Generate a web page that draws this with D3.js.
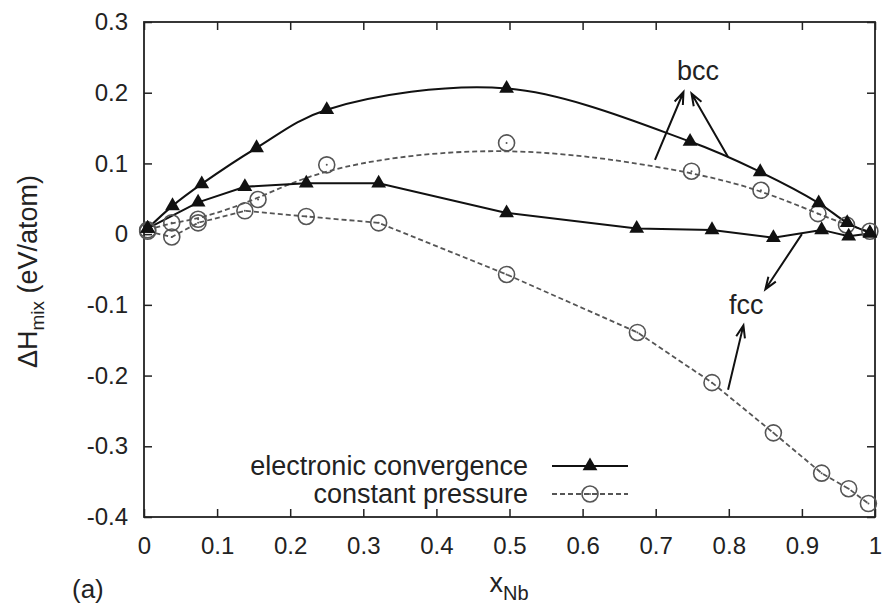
<!DOCTYPE html>
<html>
<head>
<meta charset="utf-8">
<script src="https://cdn.jsdelivr.net/npm/d3@7"></script>
<style>
  body { margin: 0; background: #fff; }
  svg text { font-family: "Liberation Sans", Arial, sans-serif; fill: #222; }
</style>
</head>
<body>
<div id="chart"></div>
<script>
// bcc, electronic convergence (solid, triangles)
var bccElX = [0.005, 0.039, 0.079, 0.154, 0.25, 0.496, 0.747, 0.843, 0.923, 0.962, 0.993];
var bccElY = [0.008, 0.040, 0.071, 0.122, 0.176, 0.206, 0.131, 0.088, 0.044, 0.016, 0.002];
// bcc, constant pressure (dashed, circles)
var bccCpX = [0.005, 0.038, 0.074, 0.156, 0.25, 0.496, 0.749, 0.844, 0.922, 0.961, 0.993];
var bccCpY = [0.006, 0.016, 0.021, 0.049, 0.098, 0.129, 0.089, 0.062, 0.029, 0.013, 0.004];
// fcc, electronic convergence
var fccElX = [0.005, 0.074, 0.138, 0.222, 0.321, 0.496, 0.674, 0.777, 0.861, 0.927, 0.964, 0.993];
var fccElY = [0.008, 0.045, 0.067, 0.072, 0.072, 0.030, 0.008, 0.006, -0.005, 0.006, -0.003, 0.001];
// fcc, constant pressure
var fccCpX = [0.005, 0.038, 0.074, 0.138, 0.222, 0.321, 0.496, 0.675, 0.777, 0.861, 0.927, 0.964, 0.991];
var fccCpY = [0.004, -0.004, 0.016, 0.033, 0.025, 0.016, -0.057, -0.139, -0.21, -0.281, -0.338, -0.36, -0.381];

var xTicks = [0, 0.1, 0.2, 0.3, 0.4, 0.5, 0.6, 0.7, 0.8, 0.9, 1];
var yTicks = [-0.4, -0.3, -0.2, -0.1, 0, 0.1, 0.2, 0.3];
var legendLabels = ["electronic convergence", "constant pressure"];

// annotation arrows, [x0, y0, x1, y1] in data units
var bccLabel = {text: "bcc", x: 0.758, y: 0.218};
var bccArrows = [[0.699, 0.105, 0.738, 0.201], [0.799, 0.109, 0.749, 0.199]];
var fccLabel = {text: "fcc", x: 0.824, y: -0.113};
var fccArrows = [[0.900, 0.000, 0.850, -0.078], [0.799, -0.220, 0.820, -0.129]];

var width = 887, height = 605;
// plot frame (window.top is read-only, so no "top" here)
var mLeft = 144, mRight = 875, mTop = 22, mBottom = 517;

var svg = d3.select("#chart").append("svg")
  .attr("width", width).attr("height", height);

var x = d3.scaleLinear().domain([0, 1]).range([mLeft, mRight]);
var y = d3.scaleLinear().domain([-0.4, 0.3]).range([mBottom, mTop]);

function fmt(d) { return d === 0 ? "0" : d3.format(".1f")(d).replace("\u2212", "-"); }
function fmtX(d) { return (d === 0 || d === 1) ? String(d) : d3.format(".1f")(d); }

// axes, ticks pointing inward on all four sides
var fs = 24;
var gx = svg.append("g").attr("transform", "translate(0," + mBottom + ")")
  .call(d3.axisBottom(x).tickValues(xTicks).tickFormat(fmtX).tickSizeInner(-8).tickSizeOuter(0).tickPadding(20));
var gy = svg.append("g").attr("transform", "translate(" + mLeft + ",0)")
  .call(d3.axisLeft(y).tickValues(yTicks).tickFormat(fmt).tickSizeInner(-8).tickSizeOuter(0).tickPadding(16));
var gt = svg.append("g").attr("transform", "translate(0," + mTop + ")")
  .call(d3.axisTop(x).tickValues(xTicks).tickFormat("").tickSizeInner(-8).tickSizeOuter(0));
var gr = svg.append("g").attr("transform", "translate(" + mRight + ",0)")
  .call(d3.axisRight(y).tickValues(yTicks).tickFormat("").tickSizeInner(-8).tickSizeOuter(0));

[gx, gy, gt, gr].forEach(function(g){
  g.select(".domain").remove();
  g.selectAll("line").attr("stroke", "#222").attr("stroke-width", 1.5);
  g.selectAll("text").style("font-size", fs + "px").attr("fill", "#222");
});

svg.append("rect").attr("x", mLeft).attr("y", mTop)
  .attr("width", mRight - mLeft).attr("height", mBottom - mTop)
  .attr("fill", "none").attr("stroke", "#222").attr("stroke-width", 1.8);

// axis titles
var yl = svg.append("text")
  .attr("transform", "translate(37," + ((mTop + mBottom) / 2 + 2) + ") rotate(-90)")
  .attr("text-anchor", "middle").style("font-size", "27px");
yl.append("tspan").text("\u0394H");
yl.append("tspan").attr("dy", 7).style("font-size", "19px").text("mix");
yl.append("tspan").attr("dy", -7).text(" (eV/atom)");

var xl = svg.append("text").attr("x", 509).attr("y", 592)
  .attr("text-anchor", "middle").style("font-size", "27px");
xl.append("tspan").text("x");
xl.append("tspan").attr("dy", 8).style("font-size", "20px").text("Nb");

svg.append("text").attr("x", 72).attr("y", 598).style("font-size", "26px").text("(a)");

// curves
function pts(xs, ys) { return xs.map(function(v, i){ return [v, ys[i]]; }); }
var smoothEl = d3.line().x(function(d){ return x(d[0]); }).y(function(d){ return y(d[1]); })
  .curve(d3.curveCatmullRom.alpha(0.5));
var smoothCp = d3.line().x(function(d){ return x(d[0]); }).y(function(d){ return y(d[1]); })
  .curve(d3.curveBasis);
var straight = d3.line().x(function(d){ return x(d[0]); }).y(function(d){ return y(d[1]); });

var plot = svg.append("g");
var solidStyle = function(p){ p.attr("fill", "none").attr("stroke", "#111").attr("stroke-width", 2); };
var dashStyle = function(p){ p.attr("fill", "none").attr("stroke", "#555").attr("stroke-width", 1.8).attr("stroke-dasharray", "5,3"); };

plot.append("path").attr("d", smoothCp(pts(bccCpX, bccCpY))).call(dashStyle);
plot.append("path").attr("d", straight(pts(fccCpX, fccCpY))).call(dashStyle);
plot.append("path").attr("d", smoothEl(pts(bccElX, bccElY))).call(solidStyle);
plot.append("path").attr("d", straight(pts(fccElX, fccElY))).call(solidStyle);

var tri = d3.symbol().type(d3.symbolTriangle).size(95);
function circles(xs, ys) {
  var g = plot.append("g").selectAll("g").data(pts(xs, ys)).enter().append("g")
    .attr("transform", function(d){ return "translate(" + x(d[0]) + "," + y(d[1]) + ")"; });
  g.append("circle").attr("r", 8).attr("fill", "none").attr("stroke", "#555").attr("stroke-width", 1.6);
  g.append("circle").attr("r", 1).attr("fill", "#555");
}
function triangles(xs, ys) {
  plot.append("g").selectAll("path").data(pts(xs, ys)).enter().append("path")
    .attr("d", tri).attr("fill", "#111")
    .attr("transform", function(d){ return "translate(" + x(d[0]) + "," + y(d[1]) + ")"; });
}
circles(bccCpX, bccCpY);
circles(fccCpX, fccCpY);
triangles(bccElX, bccElY);
triangles(fccElX, fccElY);

// annotations
function arrow(a) {
  var x0 = x(a[0]), y0 = y(a[1]), x1 = x(a[2]), y1 = y(a[3]);
  var ang = Math.atan2(y1 - y0, x1 - x0), L = 13, w = 0.35;
  var h1 = [x1 - L * Math.cos(ang - w), y1 - L * Math.sin(ang - w)];
  var h2 = [x1 - L * Math.cos(ang + w), y1 - L * Math.sin(ang + w)];
  svg.append("path")
    .attr("d", "M" + x0 + "," + y0 + "L" + x1 + "," + y1 + "M" + h1 + "L" + x1 + "," + y1 + "L" + h2)
    .attr("fill", "none").attr("stroke", "#111").attr("stroke-width", 2);
}
bccArrows.forEach(arrow);
fccArrows.forEach(arrow);
[bccLabel, fccLabel].forEach(function(l){
  svg.append("text").attr("x", x(l.x)).attr("y", y(l.y)).attr("text-anchor", "middle")
    .style("font-size", "27px").text(l.text);
});

// legend
var lg = svg.append("g");
var lx0 = 552, lx1 = 628, lTextX = 528;
var rowsY = [466, 494];
lg.append("text").attr("x", lTextX).attr("y", rowsY[0] + 9).attr("text-anchor", "end")
  .style("font-size", "27px").text(legendLabels[0]);
lg.append("text").attr("x", lTextX).attr("y", rowsY[1] + 9).attr("text-anchor", "end")
  .style("font-size", "27px").text(legendLabels[1]);
lg.append("line").attr("x1", lx0).attr("x2", lx1).attr("y1", rowsY[0]).attr("y2", rowsY[0])
  .attr("stroke", "#111").attr("stroke-width", 2);
lg.append("path").attr("d", tri).attr("fill", "#111")
  .attr("transform", "translate(" + ((lx0 + lx1) / 2) + "," + rowsY[0] + ")");
lg.append("line").attr("x1", lx0).attr("x2", lx1).attr("y1", rowsY[1]).attr("y2", rowsY[1])
  .call(dashStyle);
lg.append("circle").attr("cx", (lx0 + lx1) / 2).attr("cy", rowsY[1]).attr("r", 8)
  .attr("fill", "none").attr("stroke", "#555").attr("stroke-width", 1.6);
lg.append("circle").attr("cx", (lx0 + lx1) / 2).attr("cy", rowsY[1]).attr("r", 1).attr("fill", "#555");
</script>
</body>
</html>
